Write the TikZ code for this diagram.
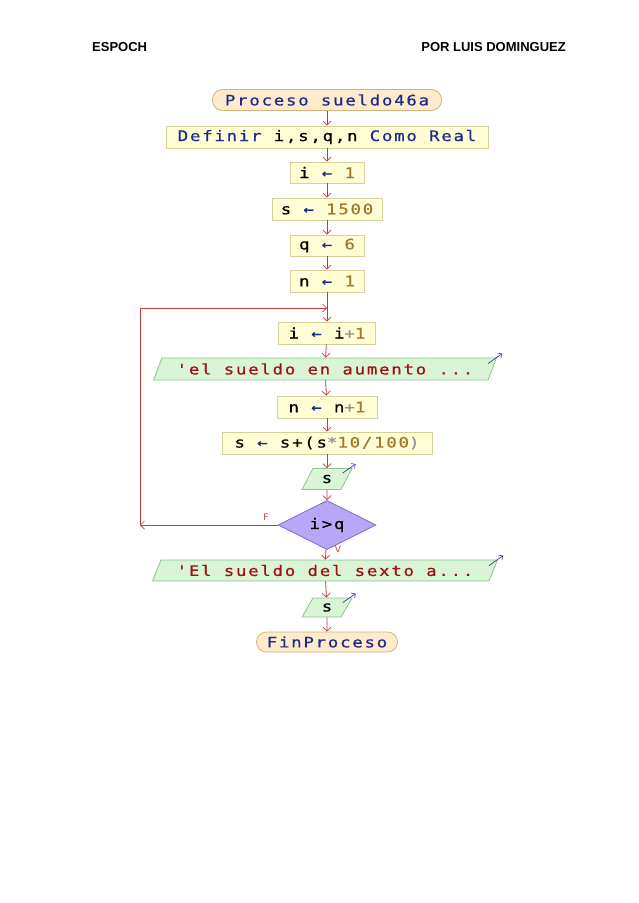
\documentclass[tikz,border=0pt]{standalone}
\usepackage{fontspec}
\setmainfont{Liberation Sans}
\newfontfamily\pmono[LetterSpace=12,FakeStretch=1.2,FakeBold=0.5]{DejaVu Sans Mono}
\newfontfamily\plab{DejaVu Sans}
\usetikzlibrary{shapes.geometric,arrows.meta}
\definecolor{navy}{HTML}{1E2A8A}
\definecolor{numc}{HTML}{A0782E}
\definecolor{opc}{HTML}{909090}
\definecolor{strc}{HTML}{A01010}
\definecolor{flowc}{HTML}{C23A3A}
\definecolor{termfill}{HTML}{FDEBCB}
\definecolor{termdraw}{HTML}{D9B27A}
\definecolor{procfill}{HTML}{FFFDD4}
\definecolor{procdraw}{HTML}{D6D29C}
\definecolor{outfill}{HTML}{D9F5D6}
\definecolor{outdraw}{HTML}{8CC48A}
\definecolor{diafill}{HTML}{B8A6F6}
\definecolor{diadraw}{HTML}{8468C8}
\definecolor{bluec}{HTML}{3A3AB0}
\newcommand{\kw}[1]{\textcolor{navy}{#1}}
\newcommand{\nm}[1]{\textcolor{numc}{#1}}
\newcommand{\op}[1]{\textcolor{opc}{#1}}
\newcommand{\st}[1]{\textcolor{strc}{#1}}
\newcommand{\la}{\textcolor{navy}{←}}
\begin{document}
\begin{tikzpicture}[x=1pt,y=-1pt,
  every node/.style={inner sep=0pt, font=\pmono\fontsize{14.5}{15}\selectfont},
  term/.style={draw=termdraw, fill=termfill, rounded corners=10pt, line width=0.8pt, text=navy},
  proc/.style={draw=procdraw, fill=procfill, line width=0.8pt},
  outp/.style={trapezium, trapezium stretches=true, draw=outdraw, fill=outfill, line width=0.8pt},
  dec/.style={diamond, draw=diadraw, fill=diafill, line width=0.8pt},
  flow/.style={draw=flowc, line width=0.8pt, -{Straight Barb[length=4pt,width=8pt,line width=0.7pt]}},
  outarrow/.style={draw=bluec, line width=0.7pt, -{Straight Barb[length=3pt,width=6pt,line width=0.6pt]}},
  lab/.style={font=\plab\fontsize{9}{10}\selectfont, text=flowc},
  head/.style={font=\bfseries\fontsize{13}{15}\selectfont}
]
\useasboundingbox (0,0) rectangle (638,903);
\node[head, anchor=west] (h1) at (92,47) {ESPOCH};
\node[head, anchor=east] (h2) at (566,47) {POR LUIS DOMINGUEZ};

\node[term, minimum width=229pt, minimum height=21pt] (proc) at (327,100) {Proceso sueldo46a};
\node[proc, minimum width=322pt, minimum height=22pt] (def) at (327,137) {\kw{Definir} i,s,q,n \kw{Como Real}};
\node[proc, minimum width=74pt, minimum height=21pt] (i1) at (327,172.5) {i \la{} \nm{1}};
\node[proc, minimum width=110pt, minimum height=22pt] (s1500) at (327,209) {s \la{} \nm{1500}};
\node[proc, minimum width=74pt, minimum height=21pt] (q6) at (327,245.5) {q \la{} \nm{6}};
\node[proc, minimum width=74pt, minimum height=22pt] (n1) at (327,281) {n \la{} \nm{1}};
\coordinate (jn) at (327,308);
\node[proc, minimum width=97pt, minimum height=22pt] (ii) at (327,333) {i \la{} i\op{+}\nm{1}};
\node[outp, trapezium left angle=56, trapezium right angle=124, minimum width=343pt, minimum height=22pt] (out1) at (325,369) {\st{'el sueldo en aumento ...}};
\node[proc, minimum width=100pt, minimum height=22pt] (nn) at (327,407) {n \la{} n\op{+}\nm{1}};
\node[proc, minimum width=210pt, minimum height=22pt] (ss) at (327,443) {s \la{} s+(s\op{*}\nm{10/100}\op{)}};
\node[outp, trapezium left angle=64, trapezium right angle=116, minimum width=50pt, minimum height=21pt] (outs) at (327,479) {s};
\node[dec, minimum width=98pt, minimum height=40pt] (dia) at (327,525) {i>q};
\node[outp, trapezium left angle=56, trapezium right angle=124, minimum width=345pt, minimum height=21pt] (out2) at (325,570.5) {\st{'El sueldo del sexto a...}};
\node[outp, trapezium left angle=64, trapezium right angle=116, minimum width=50pt, minimum height=19pt] (outs2) at (327,607.5) {s};
\node[term, minimum width=141pt, minimum height=20pt] (fin) at (327,642) {FinProceso};

\coordinate (lc) at (140,525);
\coordinate (lt) at (140,308);

\draw[flow] (proc) -- (def);
\draw[flow] (def) -- (i1);
\draw[flow] (i1) -- (s1500);
\draw[flow] (s1500) -- (q6);
\draw[flow] (q6) -- (n1);
\draw[flow] (n1) -- (ii);
\draw[flow] (ii) -- (out1);
\draw[flow] (out1) -- (nn);
\draw[flow] (nn) -- (ss);
\draw[flow] (ss) -- (outs);
\draw[flow] (outs) -- (dia);
\draw[flow] (dia) -- (out2);
\draw[flow] (out2) -- (outs2);
\draw[flow] (outs2) -- (fin);
\draw[flow] (dia.west) -- (lc);
\draw[flow] (lc) -- (lt) -- (jn);

\node[lab] (lf) at (266,517) {F};
\node[lab] (lv) at (338,549) {V};

\draw[outarrow] ([shift={(-9,6)}]out1.top right corner) -- ([shift={(5,-4)}]out1.top right corner);
\draw[outarrow] ([shift={(-10,5)}]outs.top right corner) -- ([shift={(3,-4)}]outs.top right corner);
\draw[outarrow] ([shift={(-9,6)}]out2.top right corner) -- ([shift={(5,-4)}]out2.top right corner);
\draw[outarrow] ([shift={(-10,5)}]outs2.top right corner) -- ([shift={(3,-4)}]outs2.top right corner);
\end{tikzpicture}
\end{document}
